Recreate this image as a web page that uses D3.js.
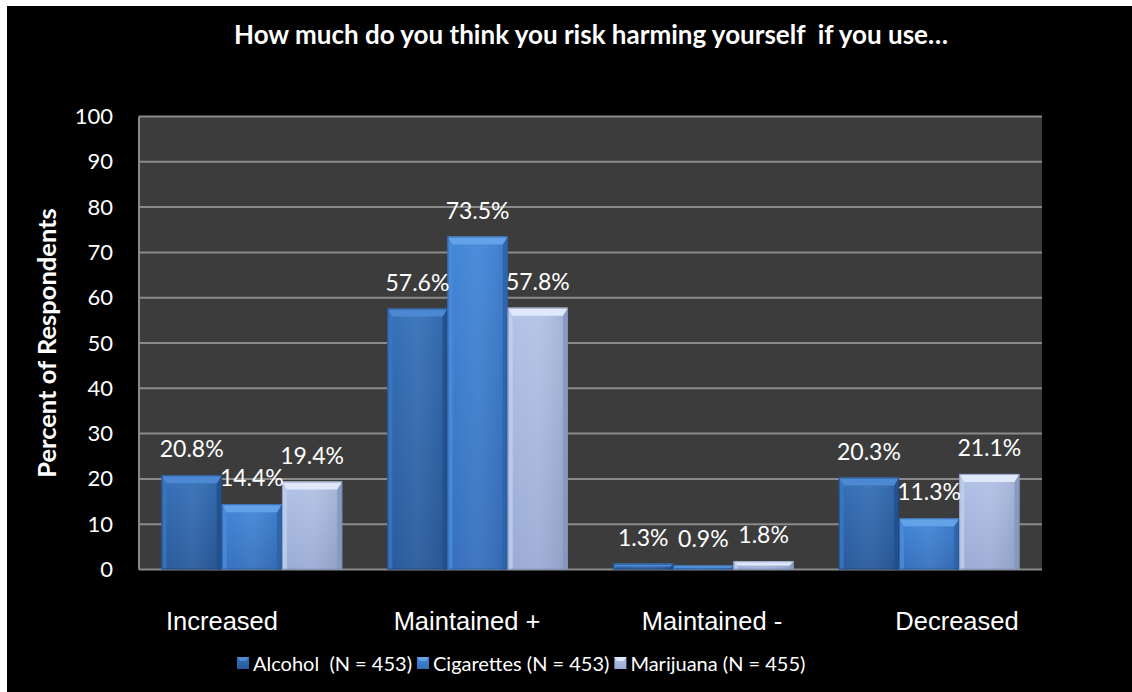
<!DOCTYPE html>
<html>
<head>
<meta charset="utf-8">
<script src="https://cdn.jsdelivr.net/npm/d3@7"></script>
<style>
  html, body { margin: 0; padding: 0; background: #ffffff; }
  svg { display: block; }
  text { white-space: pre; }
</style>
</head>
<body>
<svg id="chart" width="1132" height="692"></svg>
<script>
// Survey data: perceived risk of harm, by substance
const categories = ["Increased", "Maintained +", "Maintained -", "Decreased"];
const seriesNames = ["Alcohol  (N = 453)", "Cigarettes (N = 453)", "Marijuana (N = 455)"];
const alcohol    = [20.8, 57.6, 1.3, 20.3];
const cigarettes = [14.4, 73.5, 0.9, 11.3];
const marijuana  = [19.4, 57.8, 1.8, 21.1];
const yTicks = [0, 10, 20, 30, 40, 50, 60, 70, 80, 90, 100];
const titleText = "How much do you think you risk harming yourself  if you use\u2026";
const yAxisTitle = "Percent of Respondents";

const seriesValues = [alcohol, cigarettes, marijuana];

// Bevelled bar palettes: face gradient, top bevel, side bevels
const palettes = [
  { faceTop: "#3470b8", faceBot: "#28599c", top: "#4d89d2", left: "#3b77c0", right: "#234f8a", edge: "#1d4478" },
  { faceTop: "#4186d8", faceBot: "#356fbd", top: "#64a2e8", left: "#4b8cd9", right: "#2d62a8", edge: "#285a9a" },
  { faceTop: "#b2c2e6", faceBot: "#9aabd4", top: "#e0e9fc", left: "#c2cfee", right: "#8596c0", edge: "#7d8db5" }
];

const svg = d3.select("#chart");
const W = 1132, H = 692;

// Black slide area with a thin white margin on top and left
svg.append("rect").attr("x", 0).attr("y", 0).attr("width", W).attr("height", H).attr("fill", "#ffffff");
svg.append("rect").attr("x", 7).attr("y", 6).attr("width", W - 7).attr("height", H - 6).attr("fill", "#000000");

const plot = { left: 139, right: 1042, top: 116.5, bottom: 569.5 };

const x0 = d3.scaleBand().domain(categories).range([plot.left, plot.right])
  .paddingInner(0.2).paddingOuter(0.1);
const x1 = d3.scaleBand().domain(d3.range(seriesNames.length)).range([0, x0.bandwidth()]);
const y = d3.scaleLinear().domain([0, 100]).range([plot.bottom, plot.top]);

// Category labels sit on their own spread-out scale beneath the plot
const xLabel = d3.scalePoint().domain(categories).range([222, 957]);

// Gradients
const defs = svg.append("defs");
palettes.forEach((p, i) => {
  const g = defs.append("linearGradient").attr("id", "face" + i)
    .attr("x1", 0).attr("y1", 0).attr("x2", 0).attr("y2", 1);
  g.append("stop").attr("offset", "0%").attr("stop-color", p.faceTop);
  g.append("stop").attr("offset", "100%").attr("stop-color", p.faceBot);
  const h = defs.append("linearGradient").attr("id", "shine" + i)
    .attr("x1", 0).attr("y1", 0).attr("x2", 1).attr("y2", 0);
  h.append("stop").attr("offset", "0%").attr("stop-color", "#ffffff").attr("stop-opacity", 0.0);
  h.append("stop").attr("offset", "50%").attr("stop-color", "#ffffff").attr("stop-opacity", 0.06);
  h.append("stop").attr("offset", "100%").attr("stop-color", "#000000").attr("stop-opacity", 0.08);
});

// Plot area background
svg.append("rect")
  .attr("x", plot.left).attr("y", plot.top)
  .attr("width", plot.right - plot.left).attr("height", plot.bottom - plot.top)
  .attr("fill", "#3c3c3c");

// Gridlines
svg.append("g").selectAll("line").data(yTicks).join("line")
  .attr("x1", plot.left).attr("x2", plot.right)
  .attr("y1", d => y(d)).attr("y2", d => y(d))
  .attr("stroke", "#8a8a8a").attr("stroke-width", 2);

// Left axis line
svg.append("line")
  .attr("x1", plot.left).attr("x2", plot.left)
  .attr("y1", plot.top).attr("y2", plot.bottom)
  .attr("stroke", "#8a8a8a").attr("stroke-width", 2);

// Y axis tick labels
const yAxis = d3.axisLeft(y).tickValues(yTicks).tickSize(0).tickPadding(26);
const yAxisG = svg.append("g").attr("transform", `translate(${plot.left},0)`).call(yAxis);
yAxisG.select(".domain").remove();
yAxisG.selectAll("text")
  .attr("fill", "#ffffff")
  .style("font-family", "Lato, 'Open Sans', sans-serif")
  .style("font-size", "22px");

// Bars
const bars = [];
categories.forEach((c, ci) => {
  seriesValues.forEach((vals, si) => {
    bars.push({ cat: c, si, value: vals[ci] });
  });
});

const barG = svg.append("g");
bars.forEach(d => {
  const bx = x0(d.cat) + x1(d.si);
  const bw = x1.bandwidth();
  const by = y(d.value);
  const bh = y(0) - y(d.value);
  const p = palettes[d.si];
  const b = Math.min(8, bh / 2);
  const s = Math.min(5, bh / 2);
  const g = barG.append("g");
  g.append("rect").attr("x", bx).attr("y", by).attr("width", bw).attr("height", bh)
    .attr("fill", `url(#face${d.si})`);
  g.append("rect").attr("x", bx).attr("y", by).attr("width", bw).attr("height", bh)
    .attr("fill", `url(#shine${d.si})`);
  // side bevels
  g.append("path")
    .attr("d", `M${bx},${by} L${bx + s},${by + b} L${bx + s},${by + bh} L${bx},${by + bh} Z`)
    .attr("fill", p.left).attr("opacity", 0.8);
  g.append("path")
    .attr("d", `M${bx + bw},${by} L${bx + bw - s},${by + b} L${bx + bw - s},${by + bh} L${bx + bw},${by + bh} Z`)
    .attr("fill", p.right).attr("opacity", 0.85);
  // top bevel
  g.append("path")
    .attr("d", `M${bx},${by} L${bx + bw},${by} L${bx + bw - s},${by + b} L${bx + s},${by + b} Z`)
    .attr("fill", p.top);
  g.append("rect").attr("x", bx + 0.5).attr("y", by + 0.5).attr("width", bw - 1).attr("height", Math.max(0, bh - 1))
    .attr("fill", "none").attr("stroke", p.edge).attr("stroke-width", 1).attr("opacity", 0.7);
});

// Value labels
svg.append("g").selectAll("text").data(bars).join("text")
  .attr("x", d => x0(d.cat) + x1(d.si) + x1.bandwidth() / 2)
  .attr("y", d => y(d.value) - 18)
  .attr("text-anchor", "middle")
  .attr("fill", "#ffffff")
  .style("font-family", "Lato, 'Open Sans', sans-serif")
  .style("font-size", "23px")
  .text(d => d.value.toFixed(1) + "%");

// Category labels
svg.append("g").selectAll("text").data(categories).join("text")
  .attr("x", d => xLabel(d))
  .attr("y", 630)
  .attr("text-anchor", "middle")
  .attr("fill", "#ffffff")
  .style("font-family", "'Liberation Sans', Arial, sans-serif")
  .style("font-size", "25.5px")
  .text(d => d);

// Title
svg.append("text")
  .attr("x", 591).attr("y", 44)
  .attr("text-anchor", "middle")
  .attr("fill", "#ffffff")
  .style("font-family", "Lato, 'Open Sans', sans-serif")
  .style("font-weight", "bold")
  .style("font-size", "26px")
  .text(titleText);

// Y axis title
svg.append("text")
  .attr("transform", `translate(56,${(plot.top + plot.bottom) / 2}) rotate(-90)`)
  .attr("text-anchor", "middle")
  .attr("fill", "#ffffff")
  .style("font-family", "Lato, 'Open Sans', sans-serif")
  .style("font-weight", "bold")
  .style("font-size", "25.5px")
  .text(yAxisTitle);

// Legend
const legend = svg.append("g").attr("transform", "translate(237,663)");
let lx = 0;
seriesNames.forEach((name, i) => {
  const item = legend.append("g").attr("transform", `translate(${lx},0)`);
  const p = palettes[i];
  item.append("rect").attr("x", 0).attr("y", -6).attr("width", 12).attr("height", 12)
    .attr("fill", `url(#face${i})`);
  item.append("path").attr("d", "M0,-6 L12,-6 L9,-2 L3,-2 Z").attr("fill", p.top);
  const t = item.append("text")
    .attr("x", 16).attr("y", 7.5)
    .attr("fill", "#ffffff")
    .style("font-family", "Lato, 'Open Sans', sans-serif")
    .style("font-size", "20px")
    .text(name);
  lx += 16 + t.node().getComputedTextLength() + 5;
});
</script>
</body>
</html>
